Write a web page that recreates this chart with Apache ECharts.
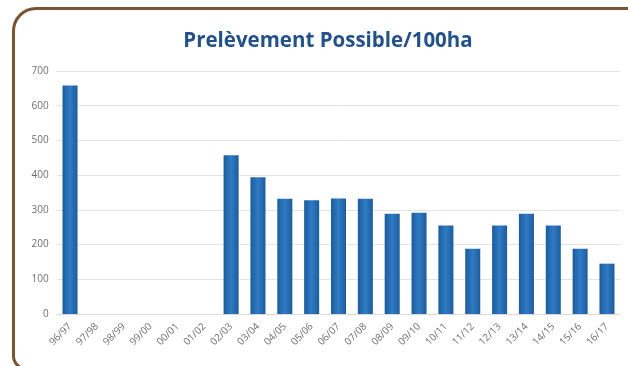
<!DOCTYPE html>
<html>
<head>
<meta charset="utf-8">
<script src="https://cdn.jsdelivr.net/npm/echarts@6/dist/echarts.min.js"></script>
<style>
html,body{margin:0;padding:0;background:#fff;overflow:hidden;}
#frame{position:absolute;left:12px;top:7px;width:660px;height:357px;border:3px solid #7b5433;border-radius:24px 0 0 14px;box-sizing:content-box;}
#chart{position:absolute;left:0;top:0;width:628px;height:366px;}
</style>
</head>
<body>
<div id="frame"></div>
<div id="chart"></div>
<script>
const title = 'Prelèvement Possible/100ha';
const categories = ['96/97','97/98','98/99','99/00','00/01','01/02','02/03','03/04','04/05','05/06','06/07','07/08','08/09','09/10','10/11','11/12','12/13','13/14','14/15','15/16','16/17'];
const values = [658, null, null, null, null, null, 457, 394, 332, 328, 333, 332, 289, 292, 255, 188, 255, 289, 255, 188, 145];
const yTicks = [0, 100, 200, 300, 400, 500, 600, 700];

const chart = echarts.init(document.getElementById('chart'), null, {renderer:'canvas'});
chart.setOption({
  animation:false,
  title:{
    text:title, left:323, top:26, textAlign:'center',
    textStyle:{fontFamily:'"Open Sans", sans-serif', fontWeight:'bold', fontSize:20.5, color:'#235189'}
  },
  grid:{left:56.6, right:7.6, top:71, bottom:52, containLabel:false},
  xAxis:{
    type:'category', data:categories,
    axisLine:{show:true, lineStyle:{color:'#d9d9d9'}},
    axisTick:{show:false},
    axisLabel:{rotate:45, interval:0, fontSize:10, color:'#6f6f6f', fontFamily:'"Open Sans", sans-serif', margin:11}
  },
  yAxis:{
    type:'value', min:yTicks[0], max:yTicks[yTicks.length-1], interval:100,
    axisLine:{show:false}, axisTick:{show:false},
    splitLine:{lineStyle:{color:'#e3e3e3', width:1}},
    axisLabel:{fontSize:10, color:'#6f6f6f', fontFamily:'"Open Sans", sans-serif', margin:8}
  },
  series:[{
    type:'bar', data:values, barWidth:'56%',
    itemStyle:{color:new echarts.graphic.LinearGradient(0,0,1,0,[
      {offset:0,color:'#1d5c9c'},{offset:0.5,color:'#2f7bc4'},{offset:1,color:'#1d5c9c'}])}
  }]
});
</script>
</body>
</html>
